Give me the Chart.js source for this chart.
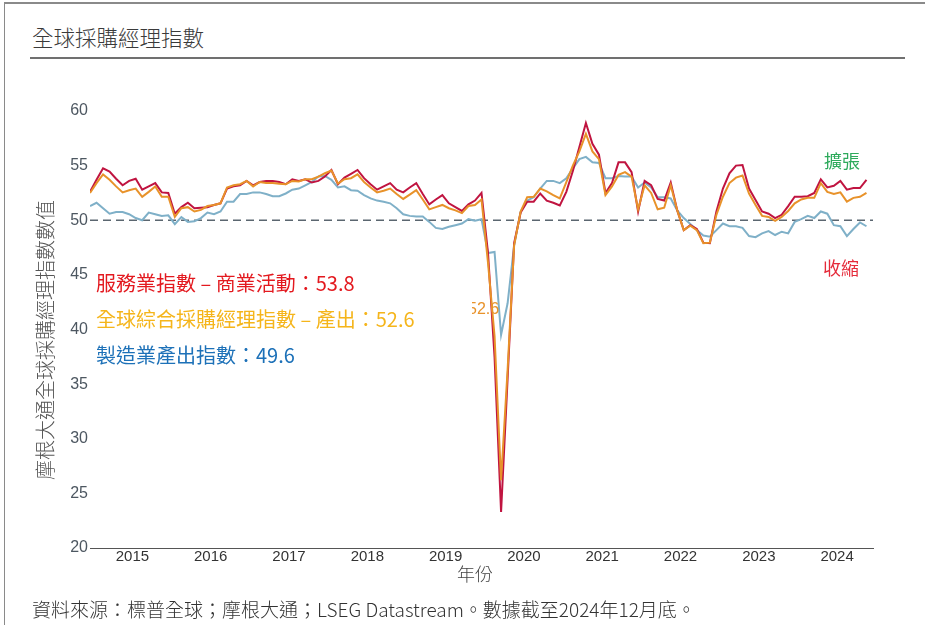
<!DOCTYPE html>
<html>
<head>
<meta charset="utf-8">
<script src="https://cdn.jsdelivr.net/npm/chart.js@4.4.1/dist/chart.umd.min.js"></script>
<style>
  body { margin: 0; background: #fff; font-family: "Noto Sans CJK TC", "Noto Sans", sans-serif; }
  #wrap { position: relative; width: 925px; height: 625px; overflow: hidden; }
  #frame { position: absolute; left: 4px; top: 2px; width: 930px; height: 640px;
           border-top: 2px solid #8a8a8a; border-left: 1px solid #8a8a8a; }
  #title { position: absolute; left: 32px; top: 21px; font-size: 21.5px; font-weight: 300; color: #3a3a3a; }
  #rule { position: absolute; left: 30px; top: 57px; width: 875px; height: 2px; background: #707070; }
  #source { position: absolute; left: 32px; top: 595px; font-size: 19px; font-weight: 300; color: #333; }
  canvas { position: absolute; left: 0; top: 0; }
</style>
</head>
<body>
<div id="wrap">
  <div id="frame"></div>
  <div id="title">全球採購經理指數</div>
  <div id="rule"></div>
  <canvas id="pmiChart" width="925" height="625"></canvas>
  <div id="source">資料來源：標普全球；摩根大通；LSEG Datastream。數據截至2024年12月底。</div>
</div>
<script>
// monthly, Jan 2015 .. Dec 2024
const years = [2015, 2016, 2017, 2018, 2019, 2020, 2021, 2022, 2023, 2024];

const services = [
  52.6, 53.7, 54.75, 54.45, 53.8, 53.2, 53.6, 53.8, 52.8, 53.1, 53.4, 52.55,
  52.5, 50.6, 51.2, 51.6, 51.1, 51.15, 51.2, 51.4, 51.55, 52.9, 53.1, 53.2,
  53.6, 53.2, 53.5, 53.6, 53.6, 53.5, 53.3, 53.75, 53.6, 53.75, 53.45, 53.6,
  54.0, 54.6, 53.3, 53.9, 54.25, 54.6, 53.85, 53.3, 52.8, 53.1, 53.4, 52.8,
  52.55, 53.0, 53.4, 52.4, 51.45, 51.9, 52.3, 51.55, 51.2, 50.85, 51.45, 51.8,
  52.5, 47.0, 37.5, 23.3, 35.5, 47.9, 50.7, 51.7, 51.7, 52.45, 51.8, 51.6,
  51.35, 52.6, 54.5, 56.7, 58.9, 57.0, 56.0, 52.5, 53.4, 55.3, 55.3, 54.4,
  50.8, 53.6, 53.2, 51.95, 51.8, 53.45, 50.9, 49.1, 49.55, 49.2, 47.95, 47.9,
  50.8, 52.9, 54.3, 55.0, 55.05, 52.9, 51.85, 50.8, 50.6, 50.2, 50.5, 51.3,
  52.15, 52.15, 52.2, 52.5, 53.75, 53.0, 53.15, 53.6, 52.8, 52.95, 52.95, 53.7
];

const composite = [
  52.5, 53.4, 54.2, 53.7, 53.1, 52.55, 52.75, 52.9, 52.15, 52.6, 53.1, 52.15,
  52.15, 50.3, 51.1, 51.2, 50.8, 50.95, 51.3, 51.4, 51.55, 53.0, 53.2, 53.3,
  53.6, 53.1, 53.5, 53.4, 53.4, 53.35, 53.3, 53.6, 53.55, 53.75, 53.75, 54.0,
  54.3, 54.55, 53.35, 53.75, 53.85, 54.2, 53.5, 53.0, 52.55, 52.7, 52.9, 52.4,
  51.95, 52.35, 52.75, 51.9, 51.0, 51.2, 51.4, 51.1, 50.9, 50.65, 51.3, 51.4,
  51.9, 46.1, 39.4, 26.2, 36.3, 47.7, 50.8, 52.1, 52.15, 52.9, 52.65, 52.3,
  52.0, 53.5, 55.0, 56.3, 57.9, 56.3, 55.6, 52.3, 53.1, 54.15, 54.4, 54.0,
  51.0, 53.2, 52.5, 51.0, 51.15, 53.2, 50.9, 49.1, 49.5, 49.1, 47.9, 47.95,
  50.5, 52.15, 53.4, 53.9, 54.1, 52.45, 51.4, 50.4, 50.3, 49.95, 50.3, 50.85,
  51.55, 51.9, 52.05, 52.05, 53.4, 52.6, 52.4, 52.55, 51.7, 52.05, 52.15, 52.5
];

const manufacturing = [
  51.3, 51.6, 51.1, 50.6, 50.75, 50.75, 50.55, 50.2, 50.0, 50.7, 50.55, 50.4,
  50.45, 49.65, 50.3, 49.85, 49.9, 50.2, 50.7, 50.55, 50.8, 51.7, 51.7, 52.4,
  52.4, 52.55, 52.55, 52.4, 52.2, 52.2, 52.45, 52.8, 52.9, 53.2, 53.5, 54.0,
  54.05, 53.7, 53.0, 53.1, 52.75, 52.7, 52.3, 52.0, 51.8, 51.7, 51.55, 51.1,
  50.55, 50.4, 50.35, 50.35, 49.85, 49.3, 49.2, 49.4, 49.55, 49.7, 50.1, 49.95,
  50.1, 47.0, 47.1, 39.5, 42.4, 47.7, 50.8, 51.8, 52.1, 52.9, 53.6, 53.6,
  53.4, 53.85, 54.75, 55.6, 55.8, 55.3, 55.25, 53.85, 53.85, 54.05, 54.0, 54.0,
  53.0, 53.45, 53.0, 52.1, 52.1, 52.0, 50.9, 50.2, 49.65, 49.1, 48.6, 48.5,
  49.1, 49.7, 49.45, 49.45, 49.3, 48.55, 48.45, 48.8, 49.0, 48.65, 48.95, 48.8,
  49.85, 50.1, 50.4, 50.2, 50.8, 50.6, 49.55, 49.45, 48.55, 49.2, 49.8, 49.45
];

const legendLines = [
  { text: '服務業指數 – 商業活動：53.8', color: '#e3191f' },
  { text: '全球綜合採購經理指數 – 產出：52.6', color: '#f5b51b' },
  { text: '製造業產出指數：49.6', color: '#1d71b8' }
];

const toPoints = arr => arr.map((v, i) => ({ x: i, y: v }));

const extras = {
  id: 'extras',
  beforeDatasetsDraw(chart) {
    const { ctx, chartArea, scales } = chart;
    const y50 = scales.y.getPixelForValue(50);
    ctx.save();
    ctx.strokeStyle = '#5b6670';
    ctx.lineWidth = 1.6;
    ctx.setLineDash([8, 5]);
    ctx.beginPath();
    ctx.moveTo(chartArea.left, y50);
    ctx.lineTo(chartArea.right, y50);
    ctx.stroke();
    ctx.restore();
  },
  afterDraw(chart) {
    const { ctx } = chart;
    ctx.save();
    ctx.textBaseline = 'middle';

    // y axis title
    ctx.save();
    ctx.translate(45, 340);
    ctx.rotate(-Math.PI / 2);
    ctx.textAlign = 'center';
    ctx.fillStyle = '#555';
    ctx.font = '300 20px "Noto Sans CJK TC"';
    ctx.fillText('摩根大通全球採購經理指數數值', 0, 0);
    ctx.restore();

    // x axis title
    ctx.textAlign = 'center';
    ctx.fillStyle = '#444';
    ctx.font = '300 18px "Noto Sans CJK TC"';
    ctx.fillText('年份', 475, 574);

    // legend text
    ctx.textAlign = 'left';
    ctx.font = '20px "Noto Sans CJK TC"';
    legendLines.forEach((l, k) => {
      ctx.fillStyle = l.color;
      ctx.fillText(l.text, 96, 283 + k * 36);
    });

    // expansion / contraction
    ctx.textAlign = 'center';
    ctx.font = '18px "Noto Sans CJK TC"';
    ctx.fillStyle = '#2eaa5c';
    ctx.fillText('擴張', 842, 161);
    ctx.fillStyle = '#e52b3a';
    ctx.fillText('收縮', 841, 268);

    // leftover data label, partly hidden
    ctx.save();
    ctx.beginPath();
    ctx.rect(472, 295, 40, 30);
    ctx.clip();
    ctx.textAlign = 'left';
    ctx.font = '16px "Liberation Sans"';
    ctx.fillStyle = '#e8922a';
    ctx.fillText('52.6', 468, 310);
    ctx.restore();

    ctx.restore();
  }
};

new Chart(document.getElementById('pmiChart').getContext('2d'), {
  type: 'line',
  data: {
    datasets: [
      { label: '全球綜合採購經理指數 – 產出', data: toPoints(composite), borderColor: '#e8922a', borderWidth: 2, pointRadius: 0, tension: 0 },
      { label: '服務業指數 – 商業活動', data: toPoints(services), borderColor: '#c01440', borderWidth: 2, pointRadius: 0, tension: 0 },
      { label: '製造業產出指數', data: toPoints(manufacturing), borderColor: '#7fb0c8', borderWidth: 2, pointRadius: 0, tension: 0 }
    ]
  },
  options: {
    responsive: false,
    animation: false,
    layout: { padding: { left: 0, right: 52, top: 111, bottom: 0 } },
    plugins: { legend: { display: false }, tooltip: { enabled: false } },
    scales: {
      x: {
        type: 'linear',
        min: 0,
        max: 120,
        grid: { display: false, drawTicks: false },
        border: { display: true, color: '#555', width: 1 },
        afterBuildTicks: scale => {
          scale.ticks = years.map((y, k) => ({ value: 6.5 + 12 * k }));
        },
        afterFit: scale => { scale.height = 77; },
        ticks: {
          autoSkip: false,
          maxRotation: 0,
          padding: 0,
          color: '#333',
          font: { family: '"Liberation Sans", sans-serif', size: 15 },
          callback: v => String(years[Math.round((v - 6.5) / 12)])
        }
      },
      y: {
        min: 20,
        max: 60,
        grid: { display: false, drawTicks: false },
        border: { display: false },
        afterFit: scale => { scale.width = 90; },
        ticks: {
          stepSize: 5,
          padding: 2,
          color: '#4d5761',
          font: { family: '"Liberation Sans", sans-serif', size: 16 }
        }
      }
    }
  },
  plugins: [extras]
});
</script>
</body>
</html>
